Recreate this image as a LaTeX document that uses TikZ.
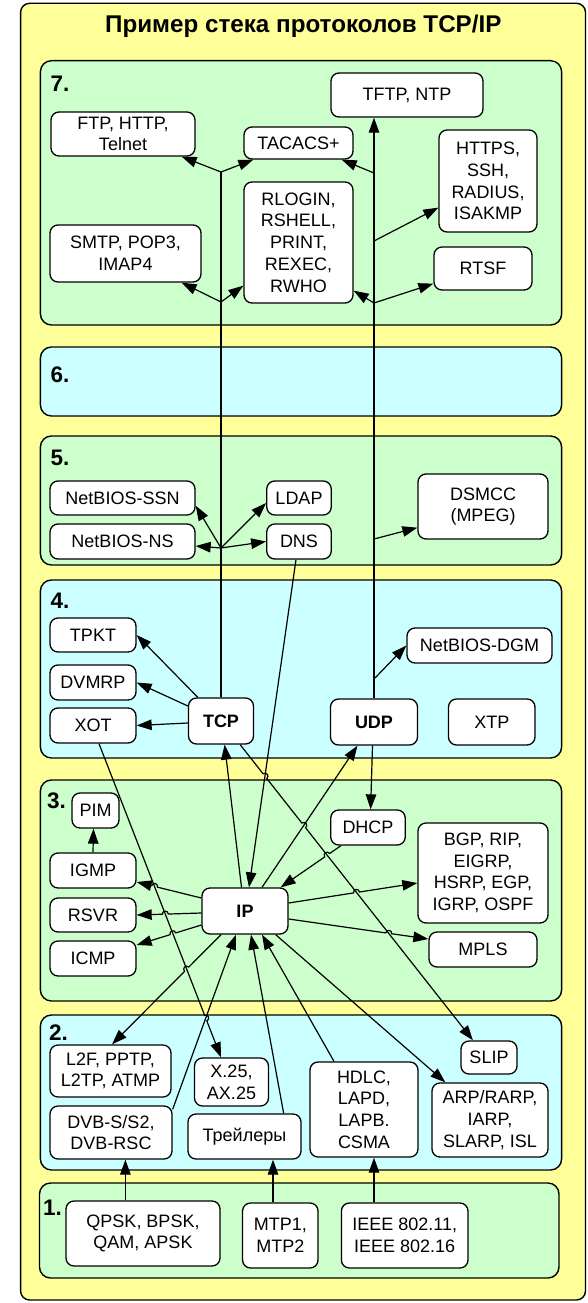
\documentclass[tikz,border=0pt]{standalone}
\usepackage{fontspec}
\setmainfont{Liberation Sans}
\usetikzlibrary{arrows.meta,calc,intersections}
\definecolor{stackbg}{HTML}{FFFF99}
\definecolor{layergreen}{HTML}{CCFFCC}
\definecolor{layercyan}{HTML}{CCFFFF}
\begin{document}
\begin{tikzpicture}[x=1pt,y=-1pt,
  layerbox/.style={draw=black,line width=1.4pt,rounded corners=11pt},
  proto/.style={draw=black,line width=1.3pt,rounded corners=8pt,fill=white,
    align=center,inner sep=0pt,font=\fontsize{18}{21.7}\selectfont},
  core/.style={proto,font=\bfseries\fontsize{18}{21.7}\selectfont},
  sz/.style 2 args={minimum width=#1pt,minimum height=#2pt},
  conn/.style={line width=1.2pt,-{Triangle[length=15pt,width=10.5pt]}},
  wire/.style={line width=1.2pt},
  lnum/.style={anchor=base west,inner sep=0pt,font=\bfseries\fontsize{22.5}{26}\selectfont},
  hopL/.style={bend left=90,looseness=1.7},
  hopR/.style={bend right=90,looseness=1.7},
]
\useasboundingbox (0,0) rectangle (587,1303);

% outer frame and title
\draw[fill=stackbg,line width=1.4pt,rounded corners=9pt] (20.6,3.3) rectangle (585.5,1300);
\node[font=\bfseries\fontsize{24.2}{28}\selectfont,anchor=base,inner sep=0pt] (title) at (303.3,33) {Пример стека протоколов TCP/IP};

% layer bands
\draw[layerbox,fill=layergreen] (40.4,60.7) rectangle (561.6,325);
\draw[layerbox,fill=layercyan]  (40.4,347)  rectangle (561.6,416);
\draw[layerbox,fill=layergreen] (40.4,436)  rectangle (561.6,565);
\draw[layerbox,fill=layercyan]  (40.4,580)  rectangle (561.6,758);
\draw[layerbox,fill=layergreen] (40.4,780)  rectangle (561.6,1001);
\draw[layerbox,fill=layercyan]  (40.4,1015) rectangle (561.6,1170);
\draw[layerbox,fill=layergreen] (39.5,1183) rectangle (559,1278);

\node[lnum] (n7) at (50.5,92) {7.};
\node[lnum] (n6) at (50.5,382) {6.};
\node[lnum] (n5) at (50.5,465) {5.};
\node[lnum] (n4) at (50.5,608) {4.};
\node[lnum] (n3) at (47,808) {3.};
\node[lnum] (n2) at (49,1040) {2.};
\node[lnum] (n1) at (43,1215) {1.};

% layer 7
\node[proto,sz={152}{44}]  (tftp)   at (407,95)      {TFTP, NTP};
\node[proto,sz={144}{44}]  (ftp)    at (123,134)     {FTP, HTTP,\\Telnet};
\node[proto,sz={109}{32}]  (tacacs) at (298.5,143)   {TACACS+};
\node[proto,sz={98}{102}]  (https)  at (488,181)     {HTTPS,\\SSH,\\RADIUS,\\ISAKMP};
\node[proto,sz={109}{121}] (rlogin) at (298.5,242.5) {RLOGIN,\\RSHELL,\\PRINT,\\REXEC,\\RWHO};
\node[proto,sz={151}{57}]  (smtp)   at (125.5,253.5) {SMTP, POP3,\\IMAP4};
\node[proto,sz={98}{43}]   (rtsf)   at (483,268.5)   {RTSF};

% layer 5
\node[proto,sz={145}{34}]  (ssn)   at (122.5,498)   {NetBIOS-SSN};
\node[proto,sz={145}{35}]  (ns)    at (122.5,541.5) {NetBIOS-NS};
\node[proto,sz={64.5}{34}] (ldap)  at (299,498)     {LDAP};
\node[proto,sz={64.5}{35}] (dns)   at (299,541.5)   {DNS};
\node[proto,sz={130}{65}]  (dsmcc) at (483,506.5)   {DSMCC\\(MPEG)};

% layer 4
\node[proto,sz={86}{34}]   (tpkt)  at (93,635)      {TPKT};
\node[proto,sz={86}{35}]   (dvmrp) at (93,682.5)    {DVMRP};
\node[proto,sz={86}{35}]   (xot)   at (93,725.5)    {XOT};
\node[core,sz={65}{46}]    (tcp)   at (221,721)     {TCP};
\node[core,sz={87}{46}]    (udp)   at (374,722)     {UDP};
\node[proto,sz={86.5}{46}] (xtp)   at (491.75,722)  {XTP};
\node[proto,sz={145}{35}]  (dgm)   at (479.5,645.5) {NetBIOS-DGM};

% layer 3
\node[proto,sz={47}{35}]   (pim)   at (95.5,810.5)  {PIM};
\node[proto,sz={86}{35}]   (igmp)  at (93,870.5)    {IGMP};
\node[proto,sz={86}{34}]   (rsvr)  at (93,915)      {RSVR};
\node[proto,sz={86}{35}]   (icmp)  at (93,958.5)    {ICMP};
\node[core,sz={86}{46}]    (ip)    at (245,911)     {IP};
\node[proto,sz={74.5}{35}] (dhcp)  at (368,827.5)   {DHCP};
\node[proto,sz={130}{100}] (bgp)   at (483,873)     {BGP, RIP,\\EIGRP,\\HSRP, EGP,\\IGRP, OSPF};
\node[proto,sz={108}{35}]  (mpls)  at (483,949.5)   {MPLS};

% layer 2
\node[proto,sz={121}{52}]  (l2f)   at (110.5,1071)  {L2F, PPTP,\\L2TP, ATMP};
\node[proto,sz={74}{48}]   (x25)   at (231.5,1082)  {X.25,\\AX.25};
\node[proto,sz={122}{53}]  (dvb)   at (111,1132.5)  {DVB-S/S2,\\DVB-RSC};
\node[proto,sz={113}{45}]  (trail) at (244.5,1136.5) {Трейлеры};
\node[proto,sz={108}{95}]  (hdlc)  at (364,1109.5)  {HDLC,\\LAPD,\\LAPB.\\CSMA};
\node[proto,sz={56}{33}]   (slip)  at (489,1057.5)  {SLIP};
\node[proto,sz={116}{74}]  (arp)   at (490,1120)    {ARP/RARP,\\IARP,\\SLARP, ISL};

% layer 1
\node[proto,sz={154}{65}]   (qpsk) at (143,1233.5)   {QPSK, BPSK,\\QAM, APSK};
\node[proto,sz={75.5}{65}]  (mtp)  at (280.3,1235.5) {MTP1,\\MTP2};
\node[proto,sz={126.6}{65}] (ieee) at (404.7,1235.5) {IEEE 802.11,\\IEEE 802.16};

% TCP trunk and its branches
\coordinate (t7a) at (221,172);
\coordinate (t7b) at (221,302);
\coordinate (t5)  at (221,548);
\draw[wire] (tcp.north) -- (t7a);
\draw[conn] (t7a) -- ([xshift=-14pt]ftp.south east);
\draw[conn] (t7a) -- ([xshift=10pt]tacacs.south west);
\draw[conn] (t7b) -- ([xshift=-20pt]smtp.south east);
\draw[conn] (t7b) -- ([yshift=18pt]rlogin.south west);
\draw[conn] (t5) -- ([yshift=10pt]ssn.south east);
\draw[conn] (t5) -- ([yshift=-4.5pt]ns.east);
\draw[conn] (t5) -- ([yshift=-5pt]ldap.west);
\draw[conn] (t5) -- (dns.west);

% UDP trunk and its branches
\coordinate (u7a) at (374,173);
\coordinate (u7b) at (374,241);
\coordinate (u7c) at (374,303);
\coordinate (u5)  at (374,539);
\coordinate (u4)  at (375,678);
\draw[conn] (udp.north) -- ([xshift=-33pt]tftp.south);
\draw[conn] (u7a) -- ([xshift=-12pt]tacacs.south east);
\draw[conn] (u7b) -- ([yshift=25pt]https.south west);
\draw[conn] (u7c) -- ([yshift=13pt]rlogin.south east);
\draw[conn] (u7c) -- ([yshift=7pt]rtsf.south west);
\draw[conn] (u5) -- ([yshift=12pt]dsmcc.south west);
\draw[conn] (u4) -- (dgm.west);

% transport layer fan-out
\draw[conn] ([xshift=10pt]tcp.north west) -- (tpkt.east);
\draw[conn] ([yshift=15pt]tcp.west) -- (dvmrp.east);
\draw[conn] ([yshift=-2pt]tcp.west) -- (xot.east);
\draw[conn] ([xshift=-3.5pt]ip.north) -- ([xshift=3.6pt]tcp.south);
\draw[conn] ([xshift=-1.5pt]udp.south) -- ([xshift=2.6pt]dhcp.north);
\draw[conn] (igmp.north) -- ([xshift=-2pt]pim.south);
\draw[conn] ([xshift=-18pt]trail.north east) -- ([xshift=6pt]ip.south);
\draw[conn] ([xshift=-30pt]hdlc.north) -- ([xshift=17pt]ip.south);
\draw[conn] ([xshift=-13pt]ip.south east) -- ([xshift=14pt]arp.north west);
\draw[conn] ([xshift=-17.6pt]qpsk.north) -- ([xshift=14.4pt]dvb.south);
\draw[conn] ([xshift=-7.3pt]mtp.north) -- ([xshift=28.5pt]trail.south);
\draw[conn] ([xshift=-30.7pt]ieee.north) -- ([xshift=10pt]hdlc.south);

% end points of the connectors that cross each other
\coordinate (xotA) at ([xshift=6pt]xot.south);
\coordinate (xotB) at ([xshift=-10.5pt]x25.north);
\coordinate (dvbA) at ([yshift=-4pt]dvb.north east);
\coordinate (dvbB) at ([xshift=-9pt]ip.south);
\coordinate (igA)  at ([yshift=13pt]ip.west);
\coordinate (igB)  at ([yshift=-11.5pt]igmp.east);
\coordinate (rsA)  at ([yshift=-2pt]ip.west);
\coordinate (rsB)  at (rsvr.east);
\coordinate (icA)  at ([yshift=-14pt]ip.west);
\coordinate (icB)  at ([yshift=13.5pt]icmp.east);
\coordinate (l2A)  at ([xshift=-24pt]ip.south);
\coordinate (l2B)  at ([xshift=1.5pt]l2f.north);
\coordinate (slA)  at ([xshift=-14pt]tcp.south east);
\coordinate (slB)  at ([xshift=12.6pt]slip.north west);
\coordinate (dnA)  at ([xshift=-3pt]dns.south);
\coordinate (dnB)  at ([xshift=4pt]ip.north);
\coordinate (udA)  at ([xshift=17pt]ip.north);
\coordinate (udB)  at ([xshift=-16.5pt]udp.south);
\coordinate (dhA)  at ([xshift=-27pt]dhcp.south);
\coordinate (dhB)  at ([xshift=-8pt]ip.north east);
\coordinate (bgA)  at ([yshift=8pt]ip.east);
\coordinate (bgB)  at ([yshift=-10pt]bgp.west);
\coordinate (mpA)  at ([yshift=-8pt]ip.east);
\coordinate (mpB)  at ([yshift=10.5pt]mpls.west);

\path[name path=pxot] (xotA) -- (xotB);
\path[name path=pdvb] (dvbA) -- (dvbB);
\path[name path=pig]  (igA) -- (igB);
\path[name path=prs]  (rsA) -- (rsB);
\path[name path=pic]  (icA) -- (icB);
\path[name path=pl2]  (l2A) -- (l2B);
\path[name path=psl]  (slA) -- (slB);
\path[name path=pdn]  (dnA) -- (dnB);
\path[name path=pud]  (udA) -- (udB);
\path[name path=pdh]  (dhA) -- (dhB);
\path[name path=pbg]  (bgA) -- (bgB);
\path[name path=pmp]  (mpA) -- (mpB);

\path[name intersections={of=pig and pxot,by=h1}];
\path[name intersections={of=prs and pxot,by=h2}];
\path[name intersections={of=pic and pxot,by=h3}];
\path[name intersections={of=pl2 and pxot,by=h4}];
\path[name intersections={of=pxot and pdvb,by=h5}];
\path[name intersections={of=psl and pdn,by=h6}];
\path[name intersections={of=psl and pud,by=h7}];
\path[name intersections={of=pdh and psl,by=h8}];
\path[name intersections={of=pbg and psl,by=h9}];
\path[name intersections={of=pmp and psl,by=h10}];

% straight connectors under the hops
\draw[conn] (dvbA) -- (dvbB);
\draw[conn] (dnA) -- (dnB);
\draw[conn] (udA) -- (udB);

% connectors with line jumps
\draw[conn] (xotA) -- ($(h5)!3pt!(xotA)$) to[hopL] ($(h5)!3pt!(xotB)$) -- (xotB);
\draw[conn] (slA) -- ($(h6)!3pt!(slA)$) to[hopL] ($(h6)!3pt!(slB)$)
  -- ($(h7)!3pt!(slA)$) to[hopL] ($(h7)!3pt!(slB)$) -- (slB);
\draw[conn] (igA) -- ($(h1)!3pt!(igA)$) to[hopR] ($(h1)!3pt!(igB)$) -- (igB);
\draw[conn] (rsA) -- ($(h2)!3pt!(rsA)$) to[hopR] ($(h2)!3pt!(rsB)$) -- (rsB);
\draw[conn] (icA) -- ($(h3)!3pt!(icA)$) to[hopR] ($(h3)!3pt!(icB)$) -- (icB);
\draw[conn] (l2A) -- ($(h4)!3pt!(l2A)$) to[hopR] ($(h4)!3pt!(l2B)$) -- (l2B);
\draw[conn] (dhA) -- ($(h8)!3pt!(dhA)$) to[hopR] ($(h8)!3pt!(dhB)$) -- (dhB);
\draw[conn] (bgA) -- ($(h9)!3pt!(bgA)$) to[hopL] ($(h9)!3pt!(bgB)$) -- (bgB);
\draw[conn] (mpA) -- ($(h10)!3pt!(mpA)$) to[hopL] ($(h10)!3pt!(mpB)$) -- (mpB);
\end{tikzpicture}
\end{document}
